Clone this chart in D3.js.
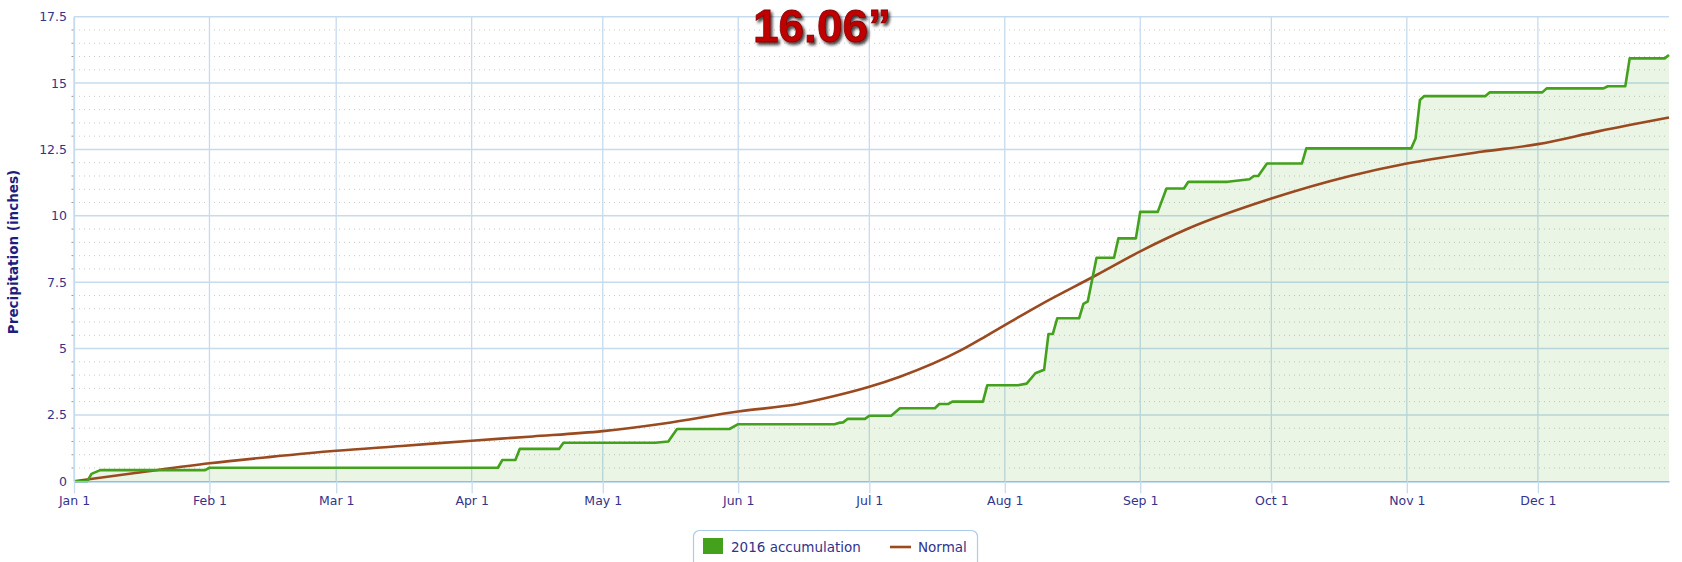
<!DOCTYPE html>
<html>
<head>
<meta charset="utf-8">
<script src="https://cdn.jsdelivr.net/npm/d3@7"></script>
<style>
  html, body { margin: 0; padding: 0; background: #fff; }
  svg { display: block; }
</style>
</head>
<body>
<div class="precip-chart"></div>
<script>

// 2016 cumulative precipitation, breakpoints
var accumDates = [
  "2016-01-01","2016-01-04","2016-01-05","2016-01-07","2016-01-31","2016-02-01",
  "2016-04-07","2016-04-08","2016-04-11","2016-04-12","2016-04-21","2016-04-22",
  "2016-05-13","2016-05-16","2016-05-18","2016-05-30","2016-06-01",
  "2016-06-23","2016-06-24","2016-06-25","2016-06-26","2016-06-30","2016-07-01",
  "2016-07-06","2016-07-08","2016-07-16","2016-07-17","2016-07-19","2016-07-20",
  "2016-07-27","2016-07-28","2016-08-04","2016-08-06","2016-08-08","2016-08-10",
  "2016-08-11","2016-08-12","2016-08-13","2016-08-18","2016-08-19","2016-08-20",
  "2016-08-22","2016-08-26","2016-08-27","2016-08-31","2016-09-01","2016-09-05",
  "2016-09-07","2016-09-11","2016-09-12","2016-09-21","2016-09-26","2016-09-27",
  "2016-09-28","2016-09-30","2016-10-08","2016-10-09","2016-11-02","2016-11-03",
  "2016-11-04","2016-11-05","2016-11-19","2016-11-20","2016-12-02","2016-12-03",
  "2016-12-16","2016-12-17","2016-12-21","2016-12-22","2016-12-30","2016-12-31"
];
var accumValues = [
  0, 0, 0.28, 0.42, 0.42, 0.51,
  0.51, 0.80, 0.80, 1.22, 1.22, 1.45,
  1.45, 1.50, 1.97, 1.97, 2.15,
  2.15, 2.20, 2.22, 2.35, 2.35, 2.47,
  2.47, 2.75, 2.75, 2.91, 2.91, 3.00,
  3.00, 3.62, 3.62, 3.68, 4.07, 4.20,
  5.55, 5.55, 6.14, 6.14, 6.68, 6.78,
  8.42, 8.42, 9.15, 9.15, 10.15, 10.15,
  11.03, 11.03, 11.28, 11.28, 11.38, 11.50,
  11.50, 11.97, 11.97, 12.54, 12.54, 12.91,
  14.36, 14.51, 14.51, 14.65, 14.65, 14.80,
  14.80, 14.88, 14.88, 15.93, 15.93, 16.06
];

// Normal cumulative precipitation
var normalDates = [
  "2016-01-01","2016-01-15","2016-02-01","2016-02-15","2016-03-01","2016-03-16",
  "2016-04-01","2016-04-15","2016-05-01","2016-05-15","2016-06-01","2016-06-15",
  "2016-06-23","2016-07-01","2016-07-08","2016-07-22","2016-07-28","2016-08-09",
  "2016-08-22","2016-09-01","2016-09-12","2016-10-01","2016-10-19",
  "2016-11-01","2016-11-18","2016-12-01","2016-12-15","2016-12-31"
];
var normalValues = [
  0, 0.31, 0.68, 0.92, 1.15, 1.33,
  1.53, 1.69, 1.89, 2.18, 2.63, 2.92,
  3.21, 3.56, 3.94, 4.94, 5.50, 6.64,
  7.77, 8.66, 9.52, 10.65, 11.50,
  11.97, 12.41, 12.70, 13.19, 13.70
];

var yTicks = [0, 2.5, 5, 7.5, 10, 12.5, 15, 17.5];
var totalLabel = "16.06\u201d";
var seriesNames = ["2016 accumulation", "Normal"];

var parseDate = d3.timeParse("%Y-%m-%d");
var formatTick = d3.timeFormat("%b %-d");

var green = "#43a11c";
var brown = "#9b4a20";
var gridColor = "#c6dbed";
var labelColor = "#33338c";

var W = 1682, H = 562;
var margin = {top: 16.7, right: 13, bottom: 80.7, left: 74};

var accum = accumDates.map(function(d, i) { return {date: parseDate(d), value: accumValues[i]}; });
var normal = normalDates.map(function(d, i) { return {date: parseDate(d), value: normalValues[i]}; });

var svg = d3.select(".precip-chart")
  .append("svg")
    .attr("width", W)
    .attr("height", H);

var x = d3.scaleTime()
  .domain([parseDate("2016-01-01"), parseDate("2016-12-31")])
  .range([margin.left, W - margin.right]);

var y = d3.scaleLinear()
  .domain([0, 17.5])
  .range([H - margin.bottom, margin.top]);

// drop shadow for the big total
var defs = svg.append("defs");
var shadow = defs.append("filter").attr("id", "shadow")
  .attr("x", "-10%").attr("y", "-20%").attr("width", "130%").attr("height", "150%");
shadow.append("feDropShadow")
  .attr("dx", 2).attr("dy", 2.5)
  .attr("stdDeviation", 1.6)
  .attr("flood-color", "#000")
  .attr("flood-opacity", 0.75);

// minor dotted gridlines every 0.5"
var minor = y.ticks(35).filter(function(d) { return yTicks.indexOf(d) < 0; });

svg.append("g")
  .selectAll("line")
  .data(minor).enter()
  .append("line")
    .attr("x1", margin.left)
    .attr("x2", W - margin.right)
    .attr("y1", function(d) { return y(d); })
    .attr("y2", function(d) { return y(d); })
    .attr("stroke", "#c9c9c9")
    .attr("stroke-width", 1)
    .attr("stroke-dasharray", "1,4");

// small minor ticks left of the axis
svg.append("g")
  .selectAll("line")
  .data(minor).enter()
  .append("line")
    .attr("x1", margin.left - 2.5)
    .attr("x2", margin.left)
    .attr("y1", function(d) { return y(d); })
    .attr("y2", function(d) { return y(d); })
    .attr("stroke", "#999");

// major horizontal gridlines
svg.append("g")
  .selectAll("line")
  .data(yTicks.filter(function(d) { return d > 0; })).enter()
  .append("line")
    .attr("x1", margin.left)
    .attr("x2", W - margin.right)
    .attr("y1", function(d) { return y(d); })
    .attr("y2", function(d) { return y(d); })
    .attr("stroke", gridColor)
    .attr("stroke-width", 1.6);

// month gridlines
var months = d3.timeMonth.range(parseDate("2016-01-01"), parseDate("2016-12-31"));

svg.append("g")
  .selectAll("line")
  .data(months).enter()
  .append("line")
    .attr("x1", function(d) { return x(d); })
    .attr("x2", function(d) { return x(d); })
    .attr("y1", margin.top)
    .attr("y2", y(0))
    .attr("stroke", gridColor)
    .attr("stroke-width", 1.3);

// area + lines
var area = d3.area()
  .x(function(d) { return x(d.date); })
  .y0(y(0))
  .y1(function(d) { return y(d.value); });

svg.append("path")
  .datum(accum)
  .attr("d", area)
  .attr("fill", green)
  .attr("fill-opacity", 0.11);

var line = d3.line()
  .x(function(d) { return x(d.date); })
  .y(function(d) { return y(d.value); });

svg.append("path")
  .datum(normal)
  .attr("d", line.curve(d3.curveMonotoneX))
  .attr("fill", "none")
  .attr("stroke", brown)
  .attr("stroke-width", 2.6);

svg.append("path")
  .datum(accum)
  .attr("d", line.curve(d3.curveLinear))
  .attr("fill", "none")
  .attr("stroke", green)
  .attr("stroke-width", 2.6)
  .attr("stroke-linejoin", "round");

// x axis
var xAxis = svg.append("g")
  .attr("transform", "translate(0," + y(0) + ")")
  .call(d3.axisBottom(x)
    .tickValues(months)
    .tickFormat(formatTick)
    .tickSize(12)
    .tickSizeOuter(0)
    .tickPadding(3));

xAxis.select(".domain")
  .attr("stroke", "#8cc0e6")
  .attr("stroke-width", 1.6);
xAxis.selectAll(".tick line")
  .attr("stroke", gridColor)
  .attr("stroke-width", 1.3);
xAxis.selectAll("text")
  .attr("fill", labelColor)
  .style("font-family", "'DejaVu Sans', Verdana, sans-serif")
  .style("font-size", "12.5px");

// y axis
var yAxis = svg.append("g")
  .attr("transform", "translate(" + margin.left + ",0)")
  .call(d3.axisLeft(y)
    .tickValues(yTicks)
    .tickFormat(function(d) { return d; })
    .tickSize(0)
    .tickPadding(7));

yAxis.select(".domain")
  .attr("stroke", gridColor)
  .attr("stroke-width", 1.3);
yAxis.selectAll("text")
  .attr("fill", labelColor)
  .style("font-family", "'DejaVu Sans', Verdana, sans-serif")
  .style("font-size", "12.5px");

svg.append("text")
  .attr("transform", "translate(18," + ((margin.top + y(0)) / 2 + 3) + ") rotate(-90)")
  .attr("text-anchor", "middle")
  .attr("fill", "#1e1e80")
  .style("font-family", "'DejaVu Sans', Verdana, sans-serif")
  .style("font-weight", "bold")
  .style("font-size", "13.5px")
  .text("Precipitation (inches)");

// big total label
svg.append("text")
  .attr("x", 822)
  .attr("y", 42)
  .attr("text-anchor", "middle")
  .attr("fill", "#c00000")
  .attr("stroke", "#800000")
  .attr("stroke-width", 0.8)
  .attr("filter", "url(#shadow)")
  .style("font-family", "'Liberation Sans', Arial, sans-serif")
  .style("font-weight", "bold")
  .style("font-size", "46px")
  .text(totalLabel);

// legend
var legend = svg.append("g");

legend.append("rect")
  .attr("x", 693.5).attr("y", 530.5)
  .attr("width", 284).attr("height", 42)
  .attr("rx", 6)
  .attr("fill", "#fff")
  .attr("stroke", "#a9cdea")
  .attr("stroke-width", 1.2);

legend.append("rect")
  .attr("x", 703).attr("y", 538)
  .attr("width", 20).attr("height", 16)
  .attr("fill", green);

legend.append("line")
  .attr("x1", 890).attr("x2", 911)
  .attr("y1", 547).attr("y2", 547)
  .attr("stroke", brown)
  .attr("stroke-width", 2.6);

legend.selectAll("text.leg")
  .data(seriesNames).enter()
  .append("text")
    .attr("class", "leg")
    .attr("x", function(d, i) { return i === 0 ? 731 : 918; })
    .attr("y", 552)
    .attr("fill", labelColor)
    .style("font-family", "'DejaVu Sans', Verdana, sans-serif")
    .style("font-size", "13.5px")
    .text(function(d) { return d; });

</script>
</body>
</html>
